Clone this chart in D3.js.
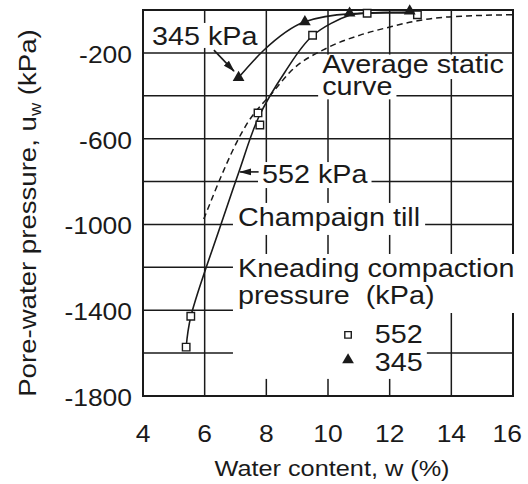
<!DOCTYPE html>
<html><head><meta charset="utf-8">
<script src="https://cdn.jsdelivr.net/npm/d3@7"></script>
<style>
html,body{margin:0;padding:0;background:#fff;}
svg{display:block;}
text{font-family:"Liberation Sans",Arial,Helvetica,sans-serif;fill:#1a1a1a;}
</style></head><body>
<svg id="c" width="528" height="484"></svg>
<script>
// ---------- data ----------
const xTicks = [4, 6, 8, 10, 12, 14, 16];
const yGrid = [0, -200, -400, -600, -800, -1000, -1200, -1400, -1600, -1800];
const yTickLabels = [-200, -600, -1000, -1400, -1800];

// measured points, 552 kPa kneading compaction (open squares)
const w552 = [5.4, 5.55, 7.73, 7.79, 9.5, 11.27, 12.9];
const u552 = [-1572, -1428, -480, -536, -118, -15, -22];
// measured points, 345 kPa (filled triangles)
const w345 = [7.1, 9.25, 10.7, 12.65];
const u345 = [-315, -55, -15, -5];

// fitted curves
const fitW552 = [5.4, 5.55, 6.5, 7.11, 7.75, 8.6, 9.5, 10.7, 11.3, 12.9];
const fitU552 = [-1572, -1430, -1012, -755, -500, -290, -120, -25, -14, -14];
const fitW345 = [7.1, 7.9, 9.25, 10.7, 12.7];
const fitU345 = [-315, -190, -55, -18, -10];
// average static curve (dashed)
const staticW = [5.97, 7.41, 8.22, 8.77, 9.97, 11.04, 12.01, 12.76, 13.6, 14.5, 16];
const staticU = [-975, -522, -382, -289, -177, -117, -79, -54, -36, -28, -22];

const legendLabels = ["552", "345"];

// ---------- setup ----------
const SX = 1.15;
const svg = d3.select("#c");
const x = d3.scaleLinear().domain([4, 16]).range([143, 513]);
const y = d3.scaleLinear().domain([0, -1800]).range([10, 396]);
const ink = "#1a1a1a";

const gGrid = svg.append("g");
const gBox = svg.append("g");
const gData = svg.append("g");
const gText = svg.append("g");

// grid
gGrid.selectAll("line.v").data(xTicks).join("line")
  .attr("x1", d => x(d)).attr("x2", d => x(d))
  .attr("y1", y(0)).attr("y2", y(-1800))
  .attr("stroke", ink).attr("stroke-width", d => (d === 4 || d === 16) ? 2 : 1.5);
gGrid.selectAll("line.h").data(yGrid).join("line")
  .attr("y1", d => y(d)).attr("y2", d => y(d))
  .attr("x1", x(4) - 1).attr("x2", x(16) + 1)
  .attr("stroke", ink).attr("stroke-width", d => (d === 0 || d === -1800) ? 2 : 1.5);

// text helper
function label(str, px, py, fs, anchor) {
  const t = gText.append("text")
    .attr("transform", `translate(${px},${py}) scale(${SX},1)`)
    .attr("font-size", fs)
    .attr("text-anchor", anchor || "start")
    .style("white-space", "pre")
    .text(str);
  const w = t.node().getComputedTextLength() * SX;
  let left = px;
  if (anchor === "middle") left = px - w / 2;
  if (anchor === "end") left = px - w;
  return {t, left, right: left + w, base: py, cap: fs * 0.72};
}
function box(x0, y0, x1, y1) {
  gBox.append("rect").attr("x", x0).attr("y", y0)
    .attr("width", x1 - x0).attr("height", y1 - y0).attr("fill", "#fff");
}
function boxFor(l, ph, pt, pb) {
  box(l.left - ph, l.base - l.cap - pt, l.right + ph, l.base + pb);
}

// axis tick labels
yTickLabels.forEach(v => label(String(v), 132, y(v) + 10, 23, "end"));
xTicks.forEach(v => {
  const l = label(String(v), x(v), 442, 23, "middle");
  if (l.right > 524) l.t.attr("transform", `translate(${x(v) - (l.right - 522)},442) scale(${SX},1)`);
});

// axis titles
label("Water content, w (%)", 332, 476, 22, "middle");
const yt = gText.append("text")
  .attr("transform", `translate(36,213) rotate(-90) scale(${SX},1)`)
  .attr("font-size", 24).attr("text-anchor", "middle");
yt.append("tspan").text("Pore-water pressure, u");
yt.append("tspan").attr("font-size", 16).attr("dy", 5).text("w");
yt.append("tspan").attr("dy", -5).text(" (kPa)");

// annotations
const a345 = label("345 kPa", x(4.29), y(-163), 25);
boxFor(a345, 4, 4, 3);
const aAvg = label("Average static", x(9.81), y(-294), 25);
boxFor(aAvg, 3, 0.5, 6);
const aCurve = label("curve", x(9.81), y(-398), 25);
boxFor(aCurve, 4, 2, 4);
const a552 = label("552 kPa", x(7.86), y(-807), 25);
boxFor(a552, 4, 3, 5);
const aCh = label("Champaign till", x(7.08), y(-1007), 25);
boxFor(aCh, 5, 5, 9);
const aK1 = label("Kneading compaction", x(7.08), y(-1245), 25);
const aK2 = label("pressure\u00a0 (kPa)", x(7.08), y(-1371), 25);
box(aK1.left - 5, aK1.base - aK1.cap - 5, Math.max(aK1.right, x(16)) + 6, aK2.base + 9);

// legend
const legX = x(10.65), legTX = x(11.52);
const lg1 = label(legendLabels[0], legTX, y(-1553), 25);
const lg2 = label(legendLabels[1], legTX, y(-1683), 25);
box(aK1.left - 5, aK2.base + 9 - 1, Math.max(lg1.right, lg2.right) + 4, lg2.base + 8);

// ---------- data marks ----------
const line = d3.line().x(d => x(d[0])).y(d => y(d[1])).curve(d3.curveMonotoneX);
const lineCR = d3.line().x(d => x(d[0])).y(d => y(d[1])).curve(d3.curveCatmullRom.alpha(0.5));
gData.append("path").datum(d3.zip(staticW, staticU)).attr("d", line)
  .attr("fill", "none").attr("stroke", ink).attr("stroke-width", 1.5)
  .attr("stroke-dasharray", "6,4");
gData.append("path").datum(d3.zip(fitW552, fitU552)).attr("d", lineCR)
  .attr("fill", "none").attr("stroke", ink).attr("stroke-width", 1.6);
gData.append("path").datum(d3.zip(fitW345, fitU345)).attr("d", line)
  .attr("fill", "none").attr("stroke", ink).attr("stroke-width", 1.6);

const sq = d3.symbol().type(d3.symbolSquare).size(56);
const tri = d3.symbol().type(d3.symbolTriangle).size(60);
gData.selectAll("path.sq").data(d3.zip(w552, u552)).join("path")
  .attr("transform", d => `translate(${x(d[0])},${y(d[1])})`)
  .attr("d", sq).attr("fill", "#fff").attr("stroke", ink).attr("stroke-width", 1.4);
gData.selectAll("path.tr").data(d3.zip(w345, u345)).join("path")
  .attr("transform", d => `translate(${x(d[0])},${y(d[1])})`)
  .attr("d", tri).attr("fill", ink);

// legend symbols
gText.append("path").attr("transform", `translate(${legX},${y(-1515)})`)
  .attr("d", d3.symbol().type(d3.symbolSquare).size(42)).attr("fill", "#fff")
  .attr("stroke", ink).attr("stroke-width", 1.4);
gText.append("path").attr("transform", `translate(${legX},${y(-1632)})`)
  .attr("d", tri).attr("fill", ink);

// arrows
const defs = svg.append("defs");
defs.append("marker").attr("id", "ah").attr("viewBox", "0 0 12 8")
  .attr("refX", 11).attr("refY", 4).attr("markerWidth", 12).attr("markerHeight", 8)
  .attr("markerUnits", "userSpaceOnUse").attr("orient", "auto")
  .append("path").attr("d", "M0,0.5 L12,4 L0,7.5 Z").attr("fill", ink);
gText.append("line")
  .attr("x1", x(6.3)).attr("y1", y(-187)).attr("x2", x(6.95)).attr("y2", y(-285))
  .attr("stroke", ink).attr("stroke-width", 1.6).attr("marker-end", "url(#ah)");
gText.append("line")
  .attr("x1", x(7.75)).attr("y1", y(-755)).attr("x2", x(7.15)).attr("y2", y(-755))
  .attr("stroke", ink).attr("stroke-width", 1.6).attr("marker-end", "url(#ah)");
</script>
</body></html>
